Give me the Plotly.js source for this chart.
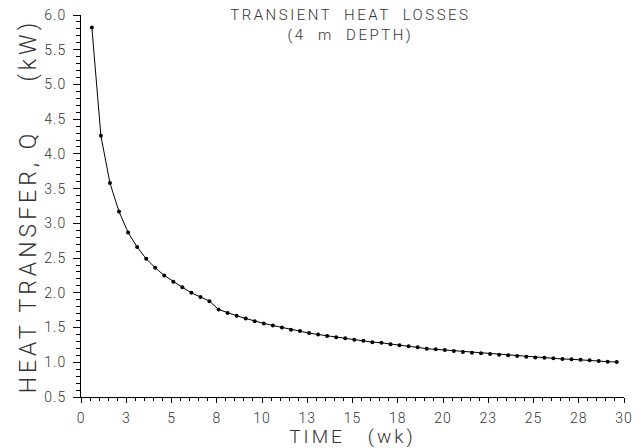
<!DOCTYPE html>
<html>
<head>
<meta charset="utf-8">
<script src="https://cdn.plot.ly/plotly-3.0.1.min.js"></script>
<style>
html,body{margin:0;padding:0;background:#fff;}
#chart{width:642px;height:448px;}
#chart .annotation-text{letter-spacing:2.5px;}
#chart .ytitle{letter-spacing:4px;}
#chart .xtitle{letter-spacing:3px;}
#chart .xtick text, #chart .ytick text{letter-spacing:1px;}
</style>
</head>
<body>
<div id="chart"></div>
<script>
// Time (weeks)
const timeWk = [0.6, 1.1, 1.6, 2.1, 2.6, 3.1, 3.6, 4.1, 4.6, 5.1,
  5.6, 6.1, 6.6, 7.1, 7.6, 8.1, 8.6, 9.1, 9.6, 10.1,
  10.6, 11.1, 11.6, 12.1, 12.6, 13.1, 13.6, 14.1, 14.6, 15.1,
  15.6, 16.1, 16.6, 17.1, 17.6, 18.1, 18.6, 19.1, 19.6, 20.1,
  20.6, 21.1, 21.6, 22.1, 22.6, 23.1, 23.6, 24.1, 24.6, 25.1,
  25.6, 26.1, 26.6, 27.1, 27.6, 28.1, 28.6, 29.1, 29.6];
// Heat transfer Q (kW)
const heatKW = [5.82, 4.26, 3.58, 3.17, 2.87, 2.66, 2.49, 2.36, 2.25, 2.16,
  2.08, 2.00, 1.94, 1.88, 1.76, 1.71, 1.67, 1.63, 1.59, 1.56,
  1.53, 1.50, 1.47, 1.45, 1.42, 1.40, 1.38, 1.36, 1.345, 1.325,
  1.31, 1.29, 1.28, 1.26, 1.245, 1.23, 1.215, 1.195, 1.187, 1.177,
  1.162, 1.148, 1.138, 1.13, 1.12, 1.11, 1.10, 1.09, 1.08, 1.07,
  1.066, 1.057, 1.047, 1.043, 1.037, 1.028, 1.018, 1.008, 1.005];
// X tick positions and their printed labels
const xTickVals = [0, 2.5, 5, 7.5, 10, 12.5, 15, 17.5, 20, 22.5, 25, 27.5, 30];
const xTickText = ["0", "3", "5", "8", "10", "13", "15", "18", "20", "23", "25", "28", "30"];
// Y tick positions and labels
const yTickVals = [0.5, 1.0, 1.5, 2.0, 2.5, 3.0, 3.5, 4.0, 4.5, 5.0, 5.5, 6.0];
const yTickText = ["0.5", "1.0", "1.5", "2.0", "2.5", "3.0", "3.5", "4.0", "4.5", "5.0", "5.5", "6.0"];
// Title lines
const titleLines = ["TRANSIENT  HEAT  LOSSES", "(4  m  DEPTH)"];

const FONT = "Roboto, Liberation Sans, Arial, sans-serif";
const INK = "#333333";
const LIGHT = 300;

const trace = {
  x: timeWk, y: heatKW, type: "scatter", mode: "lines+markers",
  line: {color: "#000", width: 1},
  marker: {color: "#000", size: 4},
  hoverinfo: "skip", showlegend: false
};

const layout = {
  width: 642, height: 448,
  margin: {l: 81, r: 18, t: 15, b: 51},
  paper_bgcolor: "#fff", plot_bgcolor: "#fff",
  font: {family: FONT, color: INK, weight: LIGHT},
  annotations: [
    {text: titleLines.join("<br>"), xref: "paper", yref: "paper", x: 0.4963, y: 0.9738,
     xanchor: "center", yanchor: "middle", align: "center", showarrow: false,
     font: {family: FONT, size: 15, color: INK, weight: LIGHT}}
  ],
  xaxis: {
    range: [0, 30], showgrid: false, zeroline: false,
    showline: true, linecolor: "#000", linewidth: 1,
    ticks: "outside", ticklen: 5, tickcolor: "#000",
    tickvals: xTickVals, ticktext: xTickText,
    ticklabelstandoff: 3,
    tickfont: {family: FONT, size: 14, color: INK, weight: LIGHT},
    minor: {dtick: 0.5, ticks: "outside", ticklen: 3, tickcolor: "#000"},
    title: {text: "TIME   (wk)", font: {family: FONT, size: 19, color: INK, weight: LIGHT}, standoff: 1}
  },
  yaxis: {
    range: [0.5, 6.0], showgrid: false, zeroline: false,
    showline: true, linecolor: "#000", linewidth: 1,
    ticks: "outside", ticklen: 7, tickcolor: "#000",
    tickvals: yTickVals, ticktext: yTickText,
    ticklabelstandoff: 4,
    tickfont: {family: FONT, size: 14, color: INK, weight: LIGHT},
    minor: {dtick: 0.1, ticks: "outside", ticklen: 4, tickcolor: "#000"},
    title: {text: "HEAT TRANSFER, Q     (kW)", font: {family: FONT, size: 23, color: INK, weight: LIGHT}, standoff: 4}
  }
};

Plotly.newPlot("chart", [trace], layout, {staticPlot: true, displayModeBar: false});
</script>
</body>
</html>
